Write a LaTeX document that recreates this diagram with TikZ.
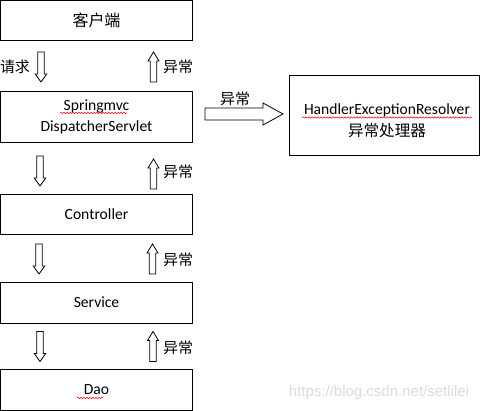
\documentclass[tikz,border=0pt]{standalone}
\usepackage{fontspec}
\setmainfont{Carlito}
\newfontfamily\cjk{Noto Sans CJK SC}
\newfontfamily\wmfont{Liberation Sans}
\usetikzlibrary{decorations.pathmorphing}
\tikzset{
  box/.style={draw, line width=0.9pt, minimum width=192pt, inner sep=0pt,
    font=\fontsize{15.6}{21}\selectfont, align=center},
  lbl/.style={font=\cjk\fontsize{15}{18}\selectfont, inner sep=0pt},
  barrow/.style={draw, line width=0.8pt, fill=white, line join=miter},
  wavy/.style={draw=red, line width=0.5pt, decorate,
    decoration={snake, amplitude=0.7pt, segment length=3pt}},
  downarr/.pic={\path[barrow] (-3.3,-15) -- (-3.3,7) -- (-5.8,7) -- (0,15)
     -- (5.8,7) -- (3.3,7) -- (3.3,-15) -- cycle;},
  uparr/.pic={\path[barrow] (-3.3,15) -- (-3.3,-6) -- (-5.5,-6) -- (0,-15)
     -- (5.5,-6) -- (3.3,-6) -- (3.3,15) -- cycle;},
}
\begin{document}
\begin{tikzpicture}[x=1pt,y=-1pt]
\useasboundingbox (0,0) rectangle (483,411);
% boxes
\node[box, minimum height=40pt] (client) at (96.5,20.5) {\cjk\fontsize{16}{18}\selectfont 客户端};
\node[box, minimum height=51pt] (disp) at (96.5,116.5) {Springmvc\\DispatcherServlet};
\node[box, minimum height=40pt] (ctrl) at (96.5,214) {Controller};
\node[box, minimum height=41pt] (serv) at (96.5,302.5) {Service};
\node[box, minimum height=41pt] (dao) at (96.5,389.5) {Dao};
\node[box, minimum width=190pt, minimum height=80pt] (handler) at (384,115) {};
\node[inner sep=0pt, align=center, font=\fontsize{15.6}{22}\selectfont] (htext) at (387,121)
  {HandlerExceptionResolver\\{\cjk 异常处理器}};
% block arrows down
\pic at (41,67) {downarr};
\pic at (40,171) {downarr};
\pic at (39,259) {downarr};
\pic at (40,346.5) {downarr};
% block arrows up
\pic at (153.5,67) {uparr};
\pic at (153.5,174) {uparr};
\pic at (152.5,259) {uparr};
\pic at (153,346.5) {uparr};
% labels
\node[lbl] (req) at (15,67) {请求};
\node[lbl] (e1) at (178,67) {异常};
\node[lbl] (e2) at (178,172) {异常};
\node[lbl] (e3) at (178,260) {异常};
\node[lbl] (e4) at (178,348) {异常};
\node[lbl] (e5) at (235,99) {异常};
% right block arrow
\path[barrow] (205,108) -- (263,108) -- (263,103) -- (283,114) -- (263,125)
  -- (263,120) -- (205,120) -- cycle;
% spell-check underlines
\path[wavy] (60,113) -- (127,113);
\path[wavy] (302,117.5) -- (472,117.5);
\path[wavy] (77,398) -- (103,398);
% watermark
\node[inner sep=0pt, text=gray!28, font=\wmfont\fontsize{15}{18}\selectfont] (wm) at (379,393) {https://blog.csdn.net/setlilei};
\end{tikzpicture}
\end{document}
